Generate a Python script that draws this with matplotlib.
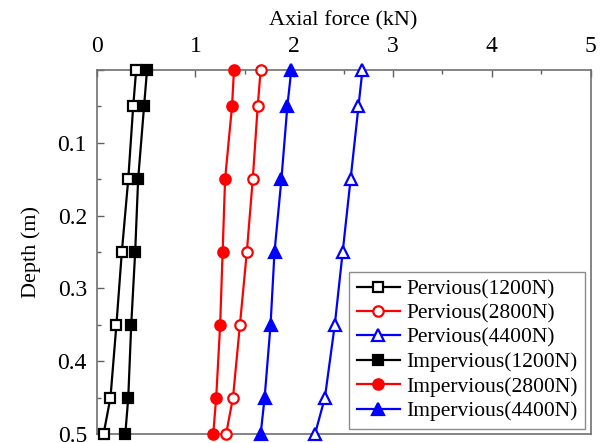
import numpy as np
import matplotlib
matplotlib.use("Agg")
import matplotlib.pyplot as plt
from matplotlib.ticker import MultipleLocator

plt.rcParams['font.family'] = ['Liberation Serif', 'DejaVu Serif']

# depth of gauges (m)
depth = [0.0, 0.05, 0.15, 0.25, 0.35, 0.45, 0.5]

# axial force (kN)
pervious_1200 = [0.40, 0.37, 0.32, 0.255, 0.20, 0.14, 0.07]
pervious_2800 = [1.66, 1.63, 1.58, 1.52, 1.45, 1.38, 1.31]
pervious_4400 = [2.69, 2.65, 2.57, 2.49, 2.41, 2.31, 2.21]
impervious_1200 = [0.51, 0.48, 0.42, 0.39, 0.35, 0.32, 0.29]
impervious_2800 = [1.39, 1.37, 1.30, 1.275, 1.25, 1.21, 1.18]
impervious_4400 = [1.97, 1.93, 1.87, 1.80, 1.76, 1.70, 1.66]

fig = plt.figure(figsize=(6.04, 4.43), dpi=100)
ax = fig.add_axes([0.160, 0.0203, 0.818, 0.822])

line = dict(lw=1.6, mew=1.6, clip_on=False, zorder=3)
ax.plot(pervious_1200, depth, color="black", marker="s", mfc="white", ms=7.5, label="Pervious(1200N)", **line)
ax.plot(pervious_2800, depth, color="red", marker="o", mfc="white", ms=7.5, label="Pervious(2800N)", **line)
ax.plot(pervious_4400, depth, color="blue", marker="^", mfc="white", ms=9, label="Pervious(4400N)", **line)
ax.plot(impervious_1200, depth, color="black", marker="s", ms=7.5, label="Impervious(1200N)", **line)
ax.plot(impervious_2800, depth, color="red", marker="o", ms=7.5, label="Impervious(2800N)", **line)
ax.plot(impervious_4400, depth, color="blue", marker="^", ms=9, label="Impervious(4400N)", **line)

ax.set_xlim(0, 5)
ax.set_ylim(0.5, 0)
ax.xaxis.set_minor_locator(MultipleLocator(0.5))
ax.yaxis.set_minor_locator(MultipleLocator(0.05))
ax.xaxis.tick_top()
ax.xaxis.set_label_position("top")
ax.set_xticks([0, 1, 2, 3, 4, 5])
ax.set_xticklabels(["0", "1", "2", "3", "4", "5"])
ax.set_yticks([0.0, 0.1, 0.2, 0.3, 0.4, 0.5])
ax.set_yticklabels(["", "0.1", "0.2", "0.3", "0.4", "0.5"])

ax.tick_params(which="both", direction="in", colors="#606060", labelcolor="black", labelsize=17)
ax.tick_params(which="major", length=5, width=1)
ax.tick_params(which="minor", length=3, width=1)
ax.tick_params(axis="x", pad=9)
ax.tick_params(axis="y", pad=7)
for s in ax.spines.values():
    s.set_color("#707070")
    s.set_linewidth(1.2)

ax.set_xlabel("Axial force (kN)", fontsize=16, labelpad=8)
ax.set_ylabel("Depth (m)", fontsize=16, labelpad=12)

leg = ax.legend(loc="lower right", fontsize=15.5, frameon=True, fancybox=False,
                edgecolor="#707070", handlelength=2.0, borderpad=0.35,
                labelspacing=0.2, handletextpad=0.3, borderaxespad=0.25)
leg.get_frame().set_linewidth(1.0)

fig.savefig("out.png", dpi=100)
